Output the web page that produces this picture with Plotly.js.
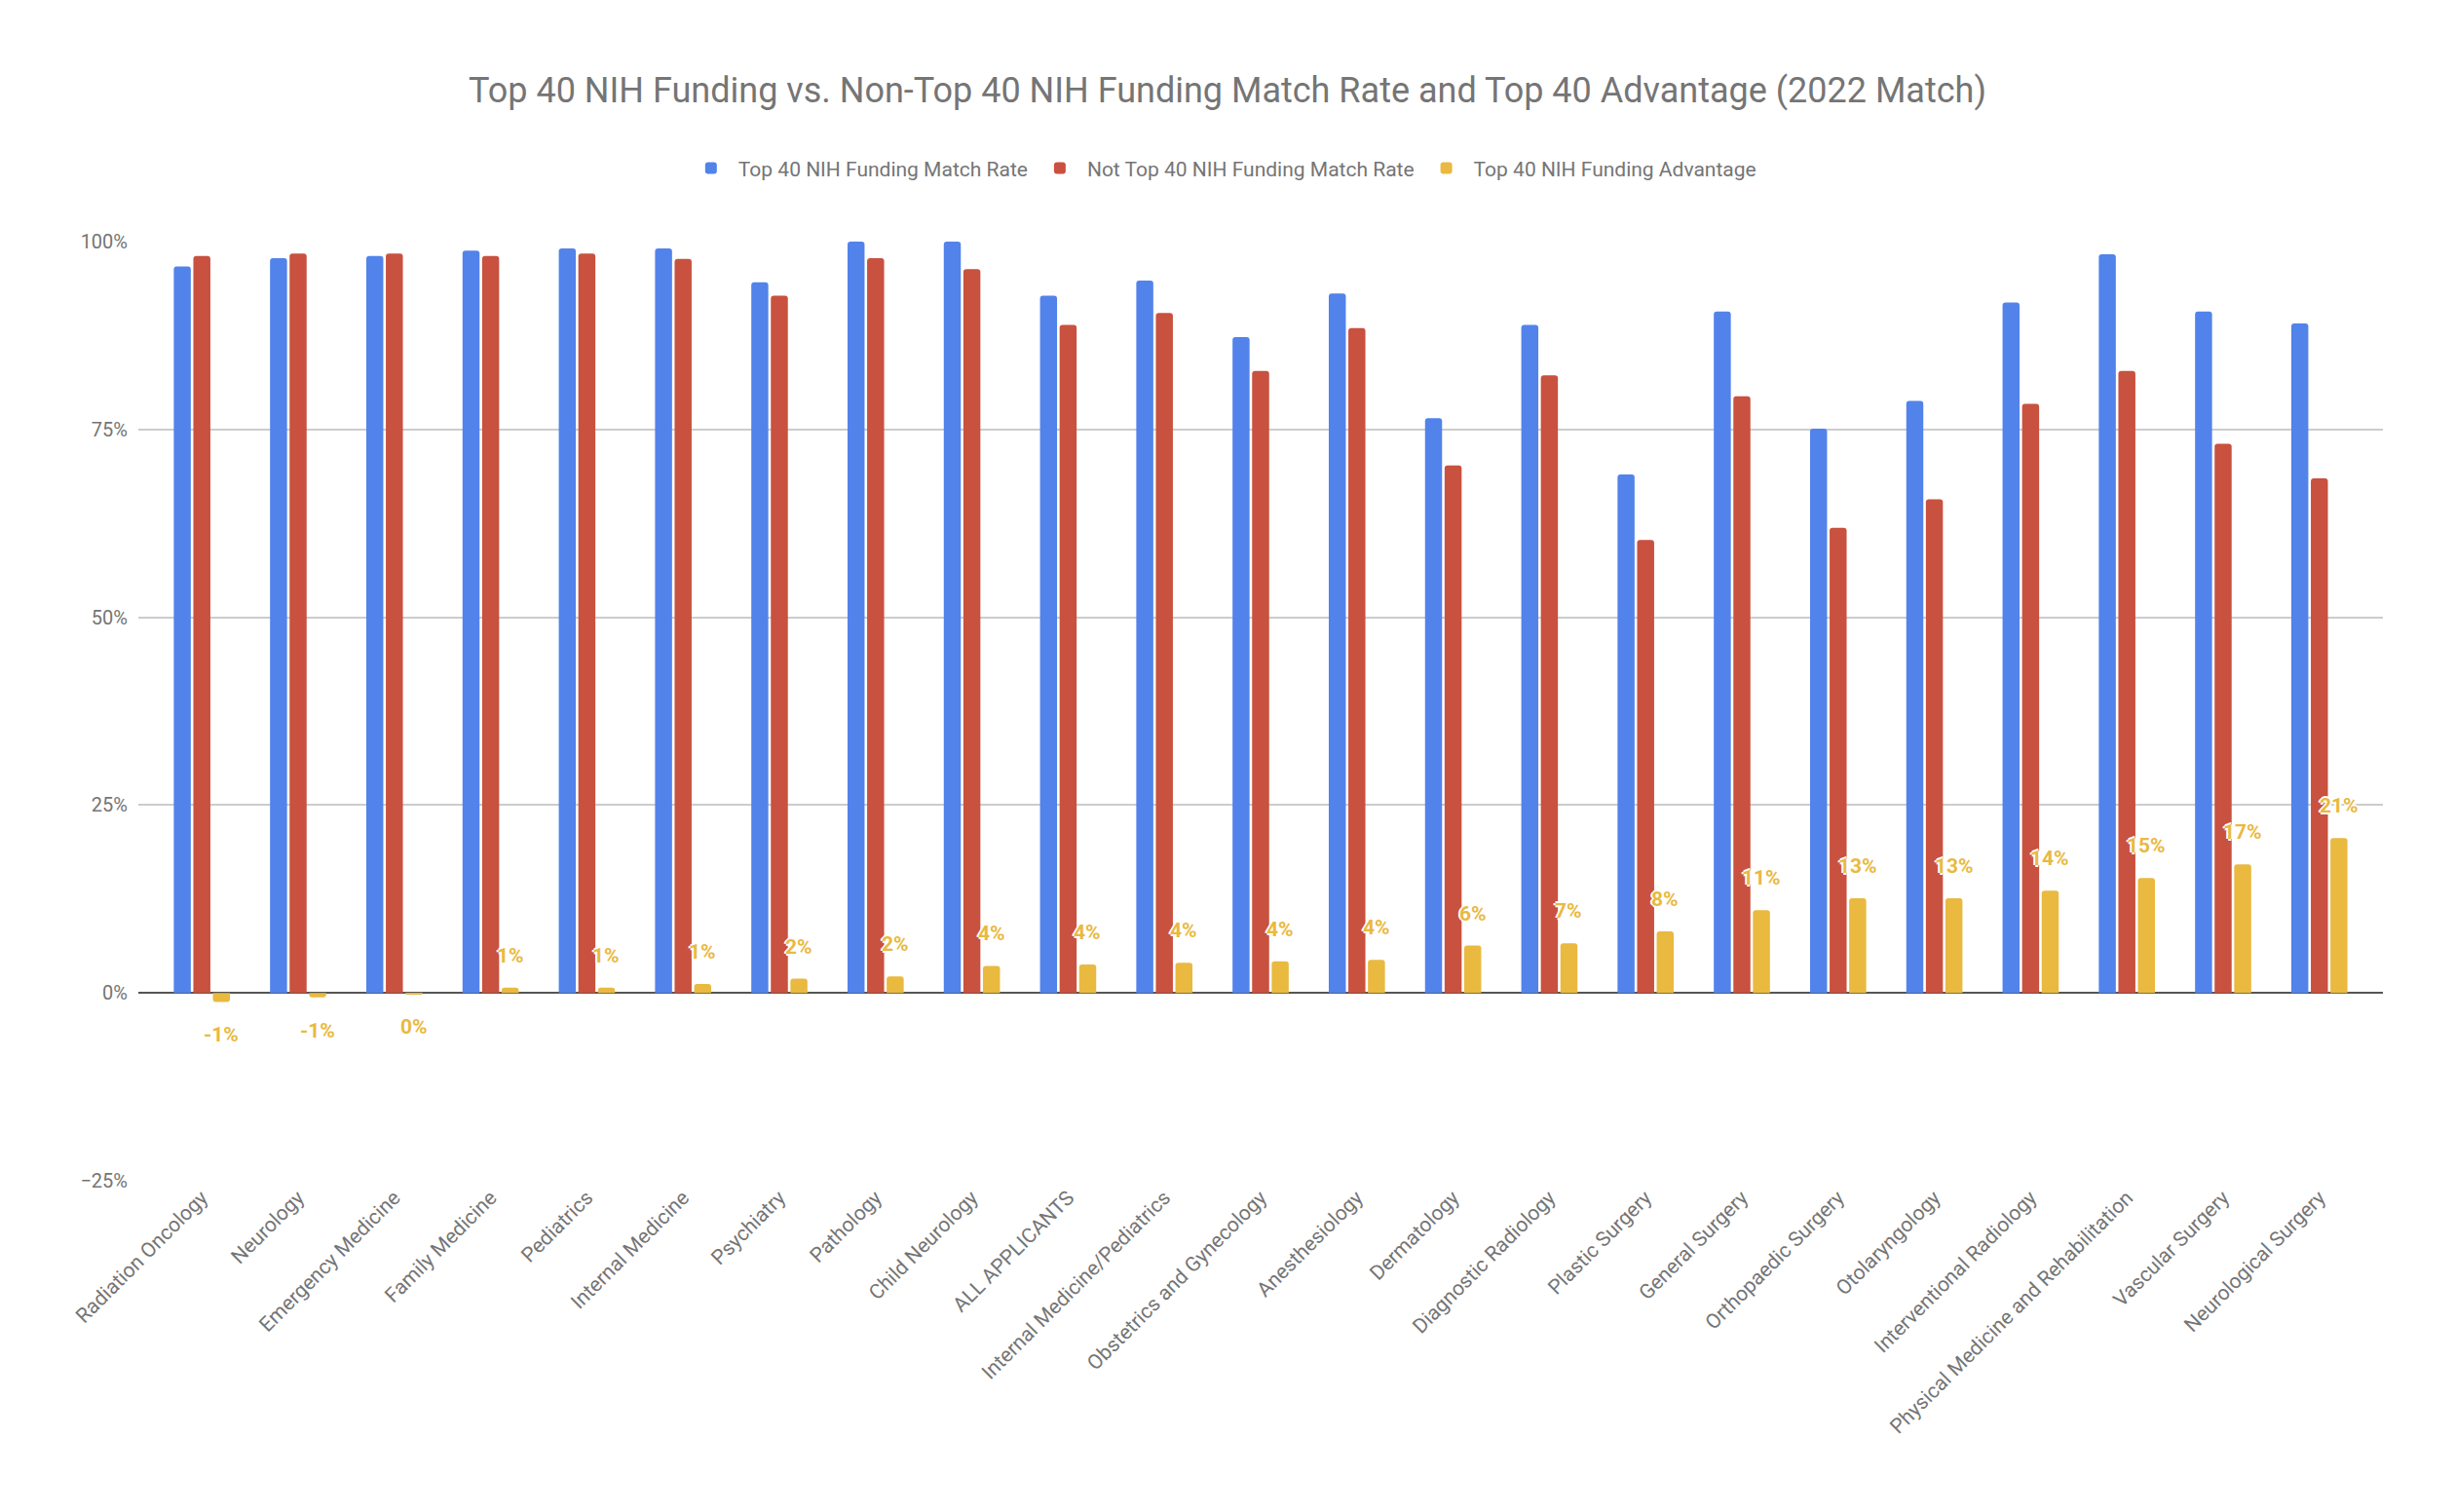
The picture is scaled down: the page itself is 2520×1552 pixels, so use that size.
<!DOCTYPE html>
<html>
<head>
<meta charset="utf-8">
<script src="https://cdn.plot.ly/plotly-3.0.1.min.js"></script>
<style>
  html, body { margin: 0; padding: 0; background: white; }
  #chart { width: 2520px; height: 1552px; }
</style>
</head>
<body>
<div id="chart"></div>
<script>
// Especialidades (orden del gráfico)
const specialties = [
    'Radiation Oncology', 'Neurology', 'Emergency Medicine', 'Family Medicine', 'Pediatrics',
    'Internal Medicine', 'Psychiatry', 'Pathology', 'Child Neurology', 'ALL APPLICANTS',
    'Internal Medicine/Pediatrics', 'Obstetrics and Gynecology', 'Anesthesiology', 'Dermatology',
    'Diagnostic Radiology', 'Plastic Surgery', 'General Surgery', 'Orthopaedic Surgery',
    'Otolaryngology', 'Interventional Radiology', 'Physical Medicine and Rehabilitation',
    'Vascular Surgery', 'Neurological Surgery'
];

// Valores en porcentaje
const top40MatchRate = [
    96.7, 97.8, 98.1, 98.8, 99.1, 99.1, 94.6, 100, 100, 92.8, 94.8, 87.3,
    93.1, 76.5, 88.9, 69.0, 90.7, 75.1, 78.8, 91.9, 98.3, 90.7, 89.1
];
const notTop40MatchRate = [
    98.1, 98.4, 98.4, 98.1, 98.4, 97.7, 92.8, 97.8, 96.35, 88.9, 90.5, 82.8,
    88.5, 70.2, 82.2, 60.3, 79.4, 61.9, 65.7, 78.4, 82.8, 73.1, 68.5
];
const top40Advantage = [
    -1.2, -0.6, -0.15, 0.7, 0.7, 1.2, 1.9, 2.2, 3.6, 3.8, 4.0, 4.2,
    4.4, 6.3, 6.6, 8.2, 11.0, 12.6, 12.6, 13.6, 15.3, 17.1, 20.6
];

const seriesNames = [
    'Top 40 NIH Funding Match Rate',
    'Not Top 40 NIH Funding Match Rate',
    'Top 40 NIH Funding Advantage'
];

const BLUE = '#5283eb';
const RED = '#c9513f';
const YELLOW = '#e9b940';
const GREY = '#757575';
const FONT = 'Roboto, Arial, sans-serif';

const BARGAP = 0.39;

const toFrac = arr => arr.map(v => v / 100);

const traces = [
    { values: top40MatchRate, color: BLUE },
    { values: notTop40MatchRate, color: RED },
    { values: top40Advantage, color: YELLOW }
].map((s, i) => ({
    type: 'bar',
    name: seriesNames[i],
    x: specialties,
    y: toFrac(s.values),
    marker: { color: s.color, line: { width: 0 } },
    hovertemplate: '%{x}<br>%{y:.1%}<extra></extra>'
}));

// Etiquetas de la ventaja, sobre (o bajo) la tercera barra de cada grupo
const barOffset = (1 - BARGAP) / 3;
const advLabels = top40Advantage.map((v, i) => ({
    x: i + barOffset,
    y: v / 100,
    xref: 'x',
    yref: 'y',
    text: Math.round(v) + '%',
    showarrow: false,
    yanchor: 'middle',
    yshift: v >= 0 ? 33 : -34,
    font: {
        family: FONT, size: 21, color: YELLOW, weight: 700,
        shadow: '2px 0 0 #fff, -2px 0 0 #fff, 0 2px 0 #fff, 0 -2px 0 #fff'
    }
}));

const layout = {
    width: 2520,
    height: 1552,
    title: {
        text: 'Top 40 NIH Funding vs. Non-Top 40 NIH Funding Match Rate and Top 40 Advantage (2022 Match)',
        font: { family: FONT, size: 36, color: GREY },
        x: 0.5,
        xanchor: 'center',
        yref: 'container',
        y: 1 - 92 / 1552,
        yanchor: 'middle'
    },
    legend: {
        orientation: 'h',
        x: 0.483,
        xanchor: 'center',
        y: 1.078,
        yanchor: 'middle',
        itemwidth: 46,
        font: { family: FONT, size: 21, color: GREY },
        itemclick: false
    },
    barmode: 'group',
    bargap: BARGAP,
    bargroupgap: 0.13,
    barcornerradius: 3,
    xaxis: {
        type: 'category',
        range: [-0.66, specialties.length - 1 + 0.66],
        tickangle: -45,
        tickfont: { family: FONT, size: 21, color: GREY },
        showgrid: false,
        showline: false,
        zeroline: false,
        ticks: '',
        automargin: false
    },
    yaxis: {
        range: [-0.25, 1.0],
        dtick: 0.25,
        tickformat: '.0%',
        tickfont: { family: FONT, size: 20, color: GREY },
        gridcolor: '#cccccc',
        gridwidth: 1.5,
        zeroline: true,
        zerolinecolor: '#555555',
        zerolinewidth: 2,
        showline: false,
        ticks: '',
        ticklabelstandoff: 10,
        automargin: false
    },
    margin: { l: 142, r: 74, t: 247.5, b: 340 },
    plot_bgcolor: 'white',
    paper_bgcolor: 'white',
    annotations: advLabels,
    showlegend: true
};

Plotly.newPlot('chart', traces, layout, { displayModeBar: false, responsive: false });
</script>
</body>
</html>
